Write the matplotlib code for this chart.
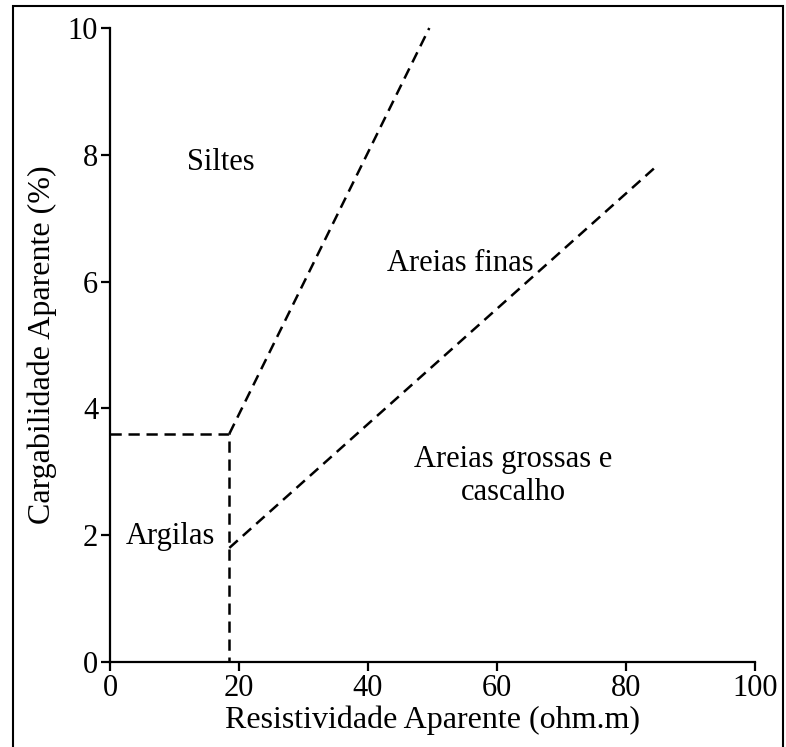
import matplotlib
matplotlib.use("Agg")
import matplotlib.pyplot as plt
from matplotlib.patches import Rectangle

plt.rcParams['font.family'] = ['Liberation Serif', 'DejaVu Serif']

# Boundary lines (resistivity, chargeability)
argilas_box_x = [0, 18.5, 18.5]
argilas_box_y = [3.6, 3.6, 0]
siltes_line_x = [18.5, 49.5]
siltes_line_y = [3.6, 10.0]
finas_line_x = [18.5, 84.5]
finas_line_y = [1.8, 7.8]

region_labels = ["Siltes", "Areias finas", "Areias grossas e\ncascalho", "Argilas"]
region_x = [17.2, 54.3, 62.5, 9.3]
region_y = [7.88, 6.28, 2.93, 1.98]

x_ticks = [0, 20, 40, 60, 80, 100]
y_ticks = [0, 2, 4, 6, 8, 10]

fig = plt.figure(figsize=(7.86, 7.47), dpi=100)
ax = fig.add_axes([0.140, 0.1138, 0.8206, 0.8487])

dash = (0, (4.5, 2.7))
lw = 1.8
ax.plot(argilas_box_x, argilas_box_y, color='black', lw=lw, linestyle=dash, clip_on=False)
ax.plot(siltes_line_x, siltes_line_y, color='black', lw=lw, linestyle=dash, clip_on=False)
ax.plot(finas_line_x, finas_line_y, color='black', lw=lw, linestyle=dash, clip_on=False)

for t, x, y in zip(region_labels, region_x, region_y):
    ax.text(x, y, t, ha='center', va='center', fontsize=22, linespacing=1.2)

ax.set_xlim(0, 100)
ax.set_ylim(0, 10)
ax.set_xticks(x_ticks)
ax.set_yticks(y_ticks)
for s in ['top', 'right']:
    ax.spines[s].set_visible(False)
for s in ['left', 'bottom']:
    ax.spines[s].set_linewidth(1.6)
ax.tick_params(direction='out', length=6.5, width=1.6, labelsize=22, pad=2)
ax.set_xlabel("Resistividade Aparente (ohm.m)", fontsize=23, labelpad=2)
ax.set_ylabel("Cargabilidade Aparente (%)", fontsize=23, labelpad=8)

fig.patches.append(Rectangle((13/786, -0.05), 770/786, 1.05 - 6/747, transform=fig.transFigure,
                             fill=False, edgecolor='black', lw=1.5))

fig.savefig("out.png", dpi=100)
